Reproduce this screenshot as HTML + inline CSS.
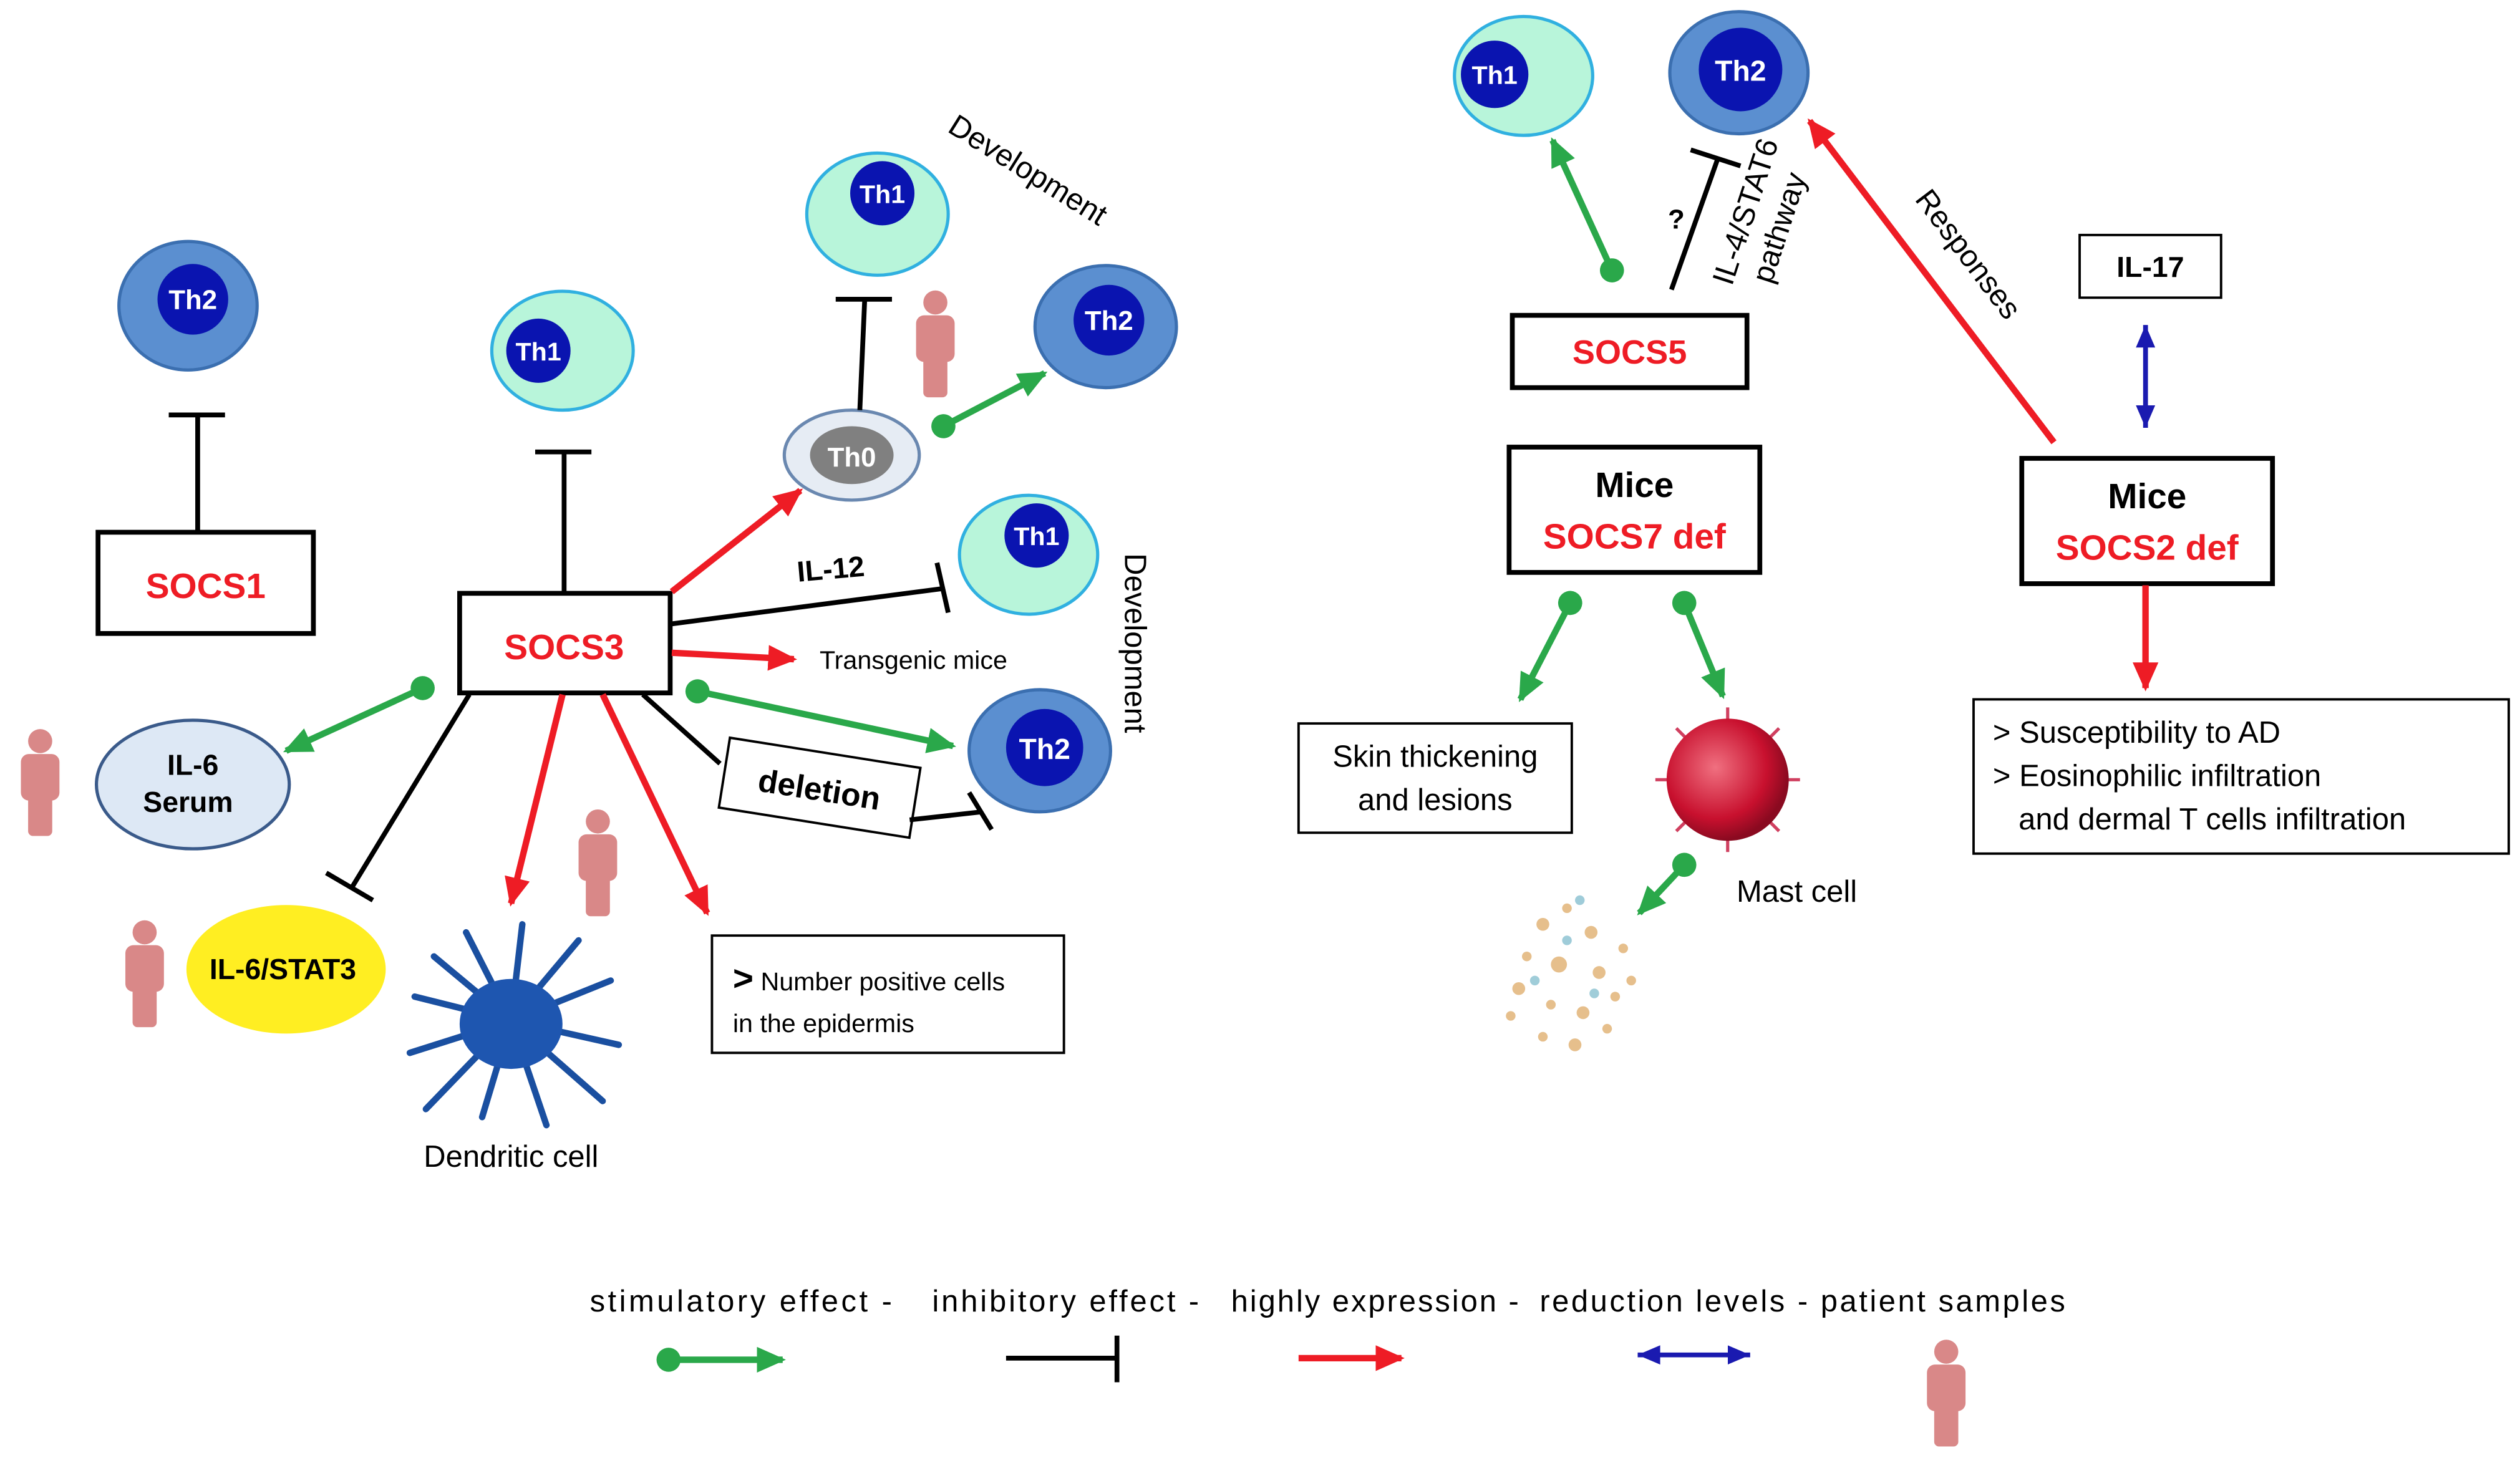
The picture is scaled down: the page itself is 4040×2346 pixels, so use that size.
<!DOCTYPE html>
<html><head><meta charset="utf-8"><style>
html,body{margin:0;padding:0;background:#fff;}
svg{display:block;}
text{font-family:"Liberation Sans",sans-serif;}
</style></head><body>
<svg width="4040" height="2346" viewBox="0 0 1568 910" xmlns="http://www.w3.org/2000/svg">
<defs>
<marker id="ag" markerUnits="userSpaceOnUse" markerWidth="20" markerHeight="20" refX="16" refY="8" orient="auto"><path d="M0,0 L18,8 L0,16 z" fill="#2aa84a"/></marker>
<marker id="ar" markerUnits="userSpaceOnUse" markerWidth="20" markerHeight="20" refX="16" refY="8" orient="auto"><path d="M0,0 L18,8 L0,16 z" fill="#ee1c25"/></marker>
<marker id="ab" markerUnits="userSpaceOnUse" markerWidth="20" markerHeight="20" refX="14" refY="6" orient="auto"><path d="M0,0 L14,6 L0,12 z" fill="#1a1ab0"/></marker>
<marker id="abs" markerUnits="userSpaceOnUse" markerWidth="20" markerHeight="20" refX="0" refY="6" orient="auto"><path d="M14,0 L0,6 L14,12 z" fill="#1a1ab0"/></marker>
<marker id="dot" markerUnits="userSpaceOnUse" markerWidth="20" markerHeight="20" refX="8" refY="8" orient="auto"><circle cx="8" cy="8" r="7.5" fill="#2aa84a"/></marker>
<g id="person" fill="#d98888">
<circle cx="0" cy="-27" r="7.5"/>
<rect x="-12" y="-19" width="24" height="29" rx="5"/>
<rect x="-7.5" y="5" width="15" height="27" rx="3"/>
</g>
<radialGradient id="mast" cx="40%" cy="40%" r="60%"><stop offset="0" stop-color="#f07080"/><stop offset="0.7" stop-color="#c8102e"/><stop offset="1" stop-color="#8a0a20"/></radialGradient>
</defs>

<g font-weight="bold">
<g><ellipse cx="117" cy="190" rx="43" ry="40" fill="#5b8fd0" stroke="#3b6fb0" stroke-width="2"/><circle cx="120" cy="186" r="22" fill="#0a14b0"/><text x="120" y="192" font-size="17" fill="#fff" text-anchor="middle">Th2</text></g>
<g><ellipse cx="350" cy="218" rx="44" ry="37" fill="#b8f5da" stroke="#30b0e0" stroke-width="2"/><circle cx="335" cy="218" r="20" fill="#0a14b0"/><text x="335" y="224" font-size="16" fill="#fff" text-anchor="middle">Th1</text></g>
<g><ellipse cx="546" cy="133" rx="44" ry="38" fill="#b8f5da" stroke="#30b0e0" stroke-width="2"/><circle cx="549" cy="120" r="20" fill="#0a14b0"/><text x="549" y="126" font-size="16" fill="#fff" text-anchor="middle">Th1</text></g>
<g><ellipse cx="688" cy="203" rx="44" ry="38" fill="#5b8fd0" stroke="#3b6fb0" stroke-width="2"/><circle cx="690" cy="199" r="22" fill="#0a14b0"/><text x="690" y="205" font-size="17" fill="#fff" text-anchor="middle">Th2</text></g>
<g><ellipse cx="530" cy="283" rx="42" ry="28" fill="#e6ecf4" stroke="#6a88b0" stroke-width="2"/><ellipse cx="530" cy="283" rx="26" ry="18" fill="#808080"/><text x="530" y="290" font-size="17" fill="#fff" text-anchor="middle">Th0</text></g>
<g><ellipse cx="640" cy="345" rx="43" ry="37" fill="#b8f5da" stroke="#30b0e0" stroke-width="2"/><circle cx="645" cy="333" r="20" fill="#0a14b0"/><text x="645" y="339" font-size="16" fill="#fff" text-anchor="middle">Th1</text></g>
<g><ellipse cx="647" cy="467" rx="44" ry="38" fill="#5b8fd0" stroke="#3b6fb0" stroke-width="2"/><circle cx="650" cy="465" r="24" fill="#0a14b0"/><text x="650" y="472" font-size="18" fill="#fff" text-anchor="middle">Th2</text></g>
<g><ellipse cx="948" cy="47" rx="43" ry="37" fill="#b8f5da" stroke="#30b0e0" stroke-width="2"/><circle cx="930" cy="46" r="21" fill="#0a14b0"/><text x="930" y="52" font-size="16" fill="#fff" text-anchor="middle">Th1</text></g>
<g><ellipse cx="1082" cy="45" rx="43" ry="38" fill="#5b8fd0" stroke="#3b6fb0" stroke-width="2"/><circle cx="1083" cy="43" r="26" fill="#0a14b0"/><text x="1083" y="50" font-size="18" fill="#fff" text-anchor="middle">Th2</text></g>

<ellipse cx="120" cy="488" rx="60" ry="40" fill="#dde8f5" stroke="#3a5a8a" stroke-width="2"/>
<text x="120" y="482" font-size="18" text-anchor="middle">IL-6</text>
<text x="117" y="505" font-size="18" text-anchor="middle">Serum</text>
<ellipse cx="178" cy="603" rx="62" ry="40" fill="#ffee22"/>
<text x="176" y="609" font-size="18" text-anchor="middle">IL-6/STAT3</text>

<rect x="61" y="331" width="134" height="63" fill="#fff" stroke="#000" stroke-width="3"/>
<text x="128" y="372" font-size="22" fill="#ee1c25" text-anchor="middle">SOCS1</text>
<rect x="286" y="369" width="131" height="62" fill="#fff" stroke="#000" stroke-width="3"/>
<text x="351" y="410" font-size="22" fill="#ee1c25" text-anchor="middle">SOCS3</text>
<rect x="941" y="196" width="146" height="45" fill="#fff" stroke="#000" stroke-width="3"/>
<text x="1014" y="226" font-size="21" fill="#ee1c25" text-anchor="middle">SOCS5</text>
<rect x="939" y="278" width="156" height="78" fill="#fff" stroke="#000" stroke-width="3"/>
<text x="1017" y="309" font-size="22" text-anchor="middle">Mice</text>
<text x="1017" y="341" font-size="22" fill="#ee1c25" text-anchor="middle">SOCS7 def</text>
<rect x="1258" y="285" width="156" height="78" fill="#fff" stroke="#000" stroke-width="3"/>
<text x="1336" y="316" font-size="22" text-anchor="middle">Mice</text>
<text x="1336" y="348" font-size="22" fill="#ee1c25" text-anchor="middle">SOCS2 def</text>
<rect x="1294" y="146" width="88" height="39" fill="#fff" stroke="#000" stroke-width="1.5"/>
<text x="1338" y="172" font-size="18" text-anchor="middle">IL-17</text>
<g transform="rotate(9 510 490)"><rect x="450" y="468" width="120" height="44" fill="#fff" stroke="#000" stroke-width="1.5"/><text x="510" y="498" font-size="20" text-anchor="middle">deletion</text></g>
<text x="517" y="360" font-size="18" text-anchor="middle" transform="rotate(-5 517 355)">IL-12</text>
<text x="1043" y="142" font-size="17" text-anchor="middle">?</text>
</g>

<g fill="none" stroke-width="3">
<line x1="123" y1="330" x2="123" y2="258" stroke="#000"/><line x1="105" y1="258" x2="140" y2="258" stroke="#000"/>
<line x1="351" y1="368" x2="351" y2="281" stroke="#000"/><line x1="333" y1="281" x2="368" y2="281" stroke="#000"/>
<line x1="535" y1="255" x2="538" y2="187" stroke="#000"/><line x1="520" y1="186" x2="555" y2="186" stroke="#000"/>
<line x1="418" y1="388" x2="587" y2="366" stroke="#000"/><line x1="583" y1="350" x2="590" y2="381" stroke="#000"/>
<line x1="400" y1="432" x2="448" y2="475" stroke="#000"/>
<line x1="566" y1="510" x2="611" y2="505" stroke="#000"/><line x1="603" y1="493" x2="617" y2="516" stroke="#000"/>
<line x1="292" y1="432" x2="219" y2="552" stroke="#000"/><line x1="203" y1="543" x2="232" y2="560" stroke="#000"/>
<line x1="1040" y1="180" x2="1069" y2="98" stroke="#000"/><line x1="1052" y1="93" x2="1083" y2="103" stroke="#000"/>

<line x1="418" y1="368" x2="498" y2="305" stroke="#ee1c25" stroke-width="4" marker-end="url(#ar)"/>
<line x1="418" y1="406" x2="494" y2="410" stroke="#ee1c25" stroke-width="4" marker-end="url(#ar)"/>
<line x1="350" y1="432" x2="318" y2="562" stroke="#ee1c25" stroke-width="4" marker-end="url(#ar)"/>
<line x1="375" y1="432" x2="440" y2="568" stroke="#ee1c25" stroke-width="4" marker-end="url(#ar)"/>
<line x1="1278" y1="275" x2="1126" y2="75" stroke="#ee1c25" stroke-width="4" marker-end="url(#ar)"/>
<line x1="1335" y1="364" x2="1335" y2="428" stroke="#ee1c25" stroke-width="4" marker-end="url(#ar)"/>

<line x1="587" y1="265" x2="650" y2="232" stroke="#2aa84a" stroke-width="4" marker-start="url(#dot)" marker-end="url(#ag)"/>
<line x1="434" y1="430" x2="593" y2="464" stroke="#2aa84a" stroke-width="4" marker-start="url(#dot)" marker-end="url(#ag)"/>
<line x1="263" y1="428" x2="178" y2="467" stroke="#2aa84a" stroke-width="4" marker-start="url(#dot)" marker-end="url(#ag)"/>
<line x1="1003" y1="168" x2="966" y2="87" stroke="#2aa84a" stroke-width="4" marker-start="url(#dot)" marker-end="url(#ag)"/>
<line x1="977" y1="375" x2="946" y2="435" stroke="#2aa84a" stroke-width="4" marker-start="url(#dot)" marker-end="url(#ag)"/>
<line x1="1048" y1="375" x2="1072" y2="433" stroke="#2aa84a" stroke-width="4" marker-start="url(#dot)" marker-end="url(#ag)"/>
<line x1="1048" y1="538" x2="1020" y2="568" stroke="#2aa84a" stroke-width="4" marker-start="url(#dot)" marker-end="url(#ag)"/>
<line x1="1335" y1="202" x2="1335" y2="266" stroke="#1a1ab0" stroke-width="3" marker-start="url(#abs)" marker-end="url(#ab)"/>
</g>

<text x="640" y="112" font-size="19" text-anchor="middle" transform="rotate(32 640 105)">Development</text>
<text x="700" y="400" font-size="19" text-anchor="middle" transform="rotate(90 700 400)">Development</text>
<text x="510" y="416" font-size="16">Transgenic mice</text>
<text x="1097" y="140" font-size="19" text-anchor="middle" transform="rotate(-72 1090 140)">IL-4/STAT6</text>
<text x="1118" y="150" font-size="19" text-anchor="middle" transform="rotate(-72 1111 150)">pathway</text>
<text x="1222" y="163" font-size="19" text-anchor="middle" transform="rotate(53 1222 160)">Responses</text>
<text x="318" y="726" font-size="19" text-anchor="middle">Dendritic cell</text>
<text x="1118" y="561" font-size="19" text-anchor="middle">Mast cell</text>

<rect x="443" y="582" width="219" height="73" fill="#fff" stroke="#000" stroke-width="1.5"/>
<text x="456" y="616" font-size="16"><tspan font-weight="bold" font-size="22">&gt;</tspan> Number positive cells</text>
<text x="456" y="642" font-size="16">in the epidermis</text>
<rect x="808" y="450" width="170" height="68" fill="#fff" stroke="#000" stroke-width="1.5"/>
<text x="893" y="477" font-size="19" text-anchor="middle">Skin thickening</text>
<text x="893" y="504" font-size="19" text-anchor="middle">and lesions</text>
<rect x="1228" y="435" width="333" height="96" fill="#fff" stroke="#000" stroke-width="1.5"/>
<text x="1240" y="462" font-size="19">&gt;  Susceptibility to AD</text>
<text x="1240" y="489" font-size="19">&gt; Eosinophilic infiltration</text>
<text x="1256" y="516" font-size="19">and dermal T cells infiltration</text>

<use href="#person" x="582" y="215"/>
<use href="#person" x="25" y="488"/>
<use href="#person" x="90" y="607"/>
<use href="#person" x="372" y="538"/>
<use href="#person" x="1211" y="868"/>

<g stroke="#1a4fa0" stroke-width="4" stroke-linecap="round" fill="none">
<path d="M318,635 L270,595 M318,635 L290,580 M318,635 L325,575 M318,635 L360,585 M318,635 L380,610 M318,635 L385,650 M318,635 L375,685 M318,635 L340,700 M318,635 L300,695 M318,635 L265,690 M318,635 L255,655 M318,635 L258,620"/>
</g>
<ellipse cx="318" cy="637" rx="32" ry="28" fill="#1e56b0"/>

<g stroke="#d04060" stroke-width="2"><path d="M1075,440 L1075,530 M1030,485 L1120,485 M1043,453 L1107,517 M1107,453 L1043,517"/></g>
<circle cx="1075" cy="485" r="38" fill="url(#mast)"/>
<g fill="#e0b070" opacity="0.8">
<circle cx="960" cy="575" r="4"/><circle cx="975" cy="565" r="3"/><circle cx="990" cy="580" r="4"/><circle cx="950" cy="595" r="3"/><circle cx="970" cy="600" r="5"/><circle cx="995" cy="605" r="4"/><circle cx="1010" cy="590" r="3"/><circle cx="945" cy="615" r="4"/><circle cx="965" cy="625" r="3"/><circle cx="985" cy="630" r="4"/><circle cx="1005" cy="620" r="3"/><circle cx="960" cy="645" r="3"/><circle cx="980" cy="650" r="4"/><circle cx="1000" cy="640" r="3"/><circle cx="940" cy="632" r="3"/><circle cx="1015" cy="610" r="3"/>
</g>
<g fill="#88c0d0" opacity="0.8"><circle cx="983" cy="560" r="3"/><circle cx="955" cy="610" r="3"/><circle cx="992" cy="618" r="3"/><circle cx="975" cy="585" r="3"/></g>

<text x="367" y="816" font-size="19" textLength="188" lengthAdjust="spacing">stimulatory effect  -</text>
<text x="580" y="816" font-size="19" textLength="166" lengthAdjust="spacing">inhibitory effect  -</text>
<text x="766" y="816" font-size="19" textLength="179" lengthAdjust="spacing">highly expression  -</text>
<text x="958" y="816" font-size="19" textLength="327" lengthAdjust="spacing">reduction  levels  -  patient samples</text>
<line x1="416" y1="846" x2="487" y2="846" stroke="#2aa84a" stroke-width="4" marker-start="url(#dot)" marker-end="url(#ag)"/>
<line x1="626" y1="845" x2="694" y2="845" stroke="#000" stroke-width="3"/><line x1="695" y1="831" x2="695" y2="860" stroke="#000" stroke-width="3"/>
<line x1="808" y1="845" x2="872" y2="845" stroke="#ee1c25" stroke-width="4" marker-end="url(#ar)"/>
<line x1="1019" y1="843" x2="1089" y2="843" stroke="#1a1ab0" stroke-width="3" marker-start="url(#abs)" marker-end="url(#ab)"/>
</svg>
</body></html>
